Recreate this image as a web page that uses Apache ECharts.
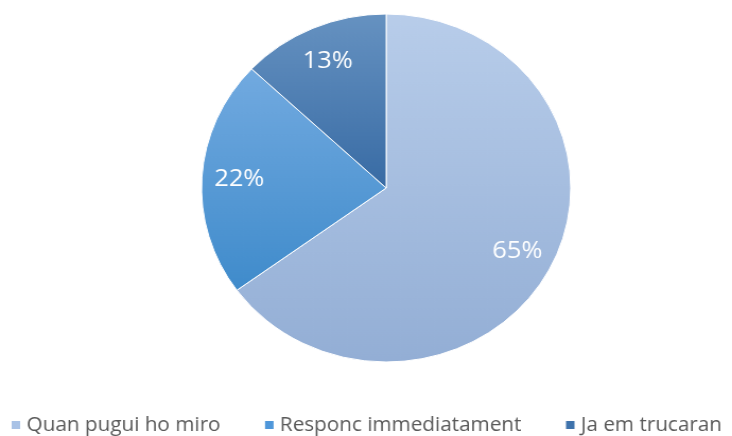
<!DOCTYPE html>
<html>
<head>
<meta charset="utf-8">
<script src="https://cdn.jsdelivr.net/npm/echarts@6/dist/echarts.min.js"></script>
<style>
  html, body { margin: 0; padding: 0; background: #ffffff; overflow: hidden; }
  #wrap { width: 732px; height: 436px; overflow: hidden; }
  /* the chart is drawn slightly wider than tall, giving an oval pie */
  #chart { width: 690px; height: 436px; transform: scaleX(1.0609); transform-origin: 0 0; }
</style>
</head>
<body>
<div id="wrap"><div id="chart"></div></div>
<script>
const categories = ['Quan pugui ho miro', 'Responc immediatament', 'Ja em trucaran'];
const shares = [65, 22, 13];
const topColors = ['#b8cdea', '#72aae0', '#6692c1'];
const bottomColors = ['#93aed5', '#3f8bcb', '#386ba4'];
const legendColors = ['#a9c2e6', '#4f97da', '#3f73ac'];

const chart = echarts.init(document.getElementById('chart'), null, { renderer: 'canvas' });

const center = [364, 188];
const R = 174;

const sliceData = categories.map((name, i) => ({
  name,
  value: shares[i],
  itemStyle: {
    color: new echarts.graphic.LinearGradient(0, 0, 0, 1, [
      { offset: 0, color: topColors[i] },
      { offset: 1, color: bottomColors[i] }
    ])
  }
}));

const labelData = categories.map((name, i) => ({ name, value: shares[i] }));

chart.setOption({
  animation: false,
  legend: {
    top: 410,
    left: 4,
    icon: 'rect',
    itemWidth: 10,
    itemHeight: 10,
    itemGap: 40,
    textStyle: { fontFamily: 'Open Sans', fontSize: 19.5, color: '#595959' },
    data: categories.map((name, i) => ({ name, itemStyle: { color: legendColors[i] } }))
  },
  series: [
    {
      type: 'pie',
      center,
      radius: [0, R],
      startAngle: 90,
      clockwise: true,
      silent: true,
      label: { show: false },
      labelLine: { show: false },
      itemStyle: { borderColor: '#ffffff', borderWidth: 1 },
      data: sliceData
    },
    {
      type: 'pie',
      center,
      radius: [R * 0.56, R],
      startAngle: 90,
      clockwise: true,
      silent: true,
      itemStyle: { color: 'rgba(0,0,0,0)' },
      label: {
        show: true,
        position: 'inside',
        formatter: p => p.value + '%',
        color: '#ffffff',
        fontFamily: 'Open Sans',
        fontSize: 24
      },
      labelLine: { show: false },
      data: labelData
    }
  ]
});
</script>
</body>
</html>
